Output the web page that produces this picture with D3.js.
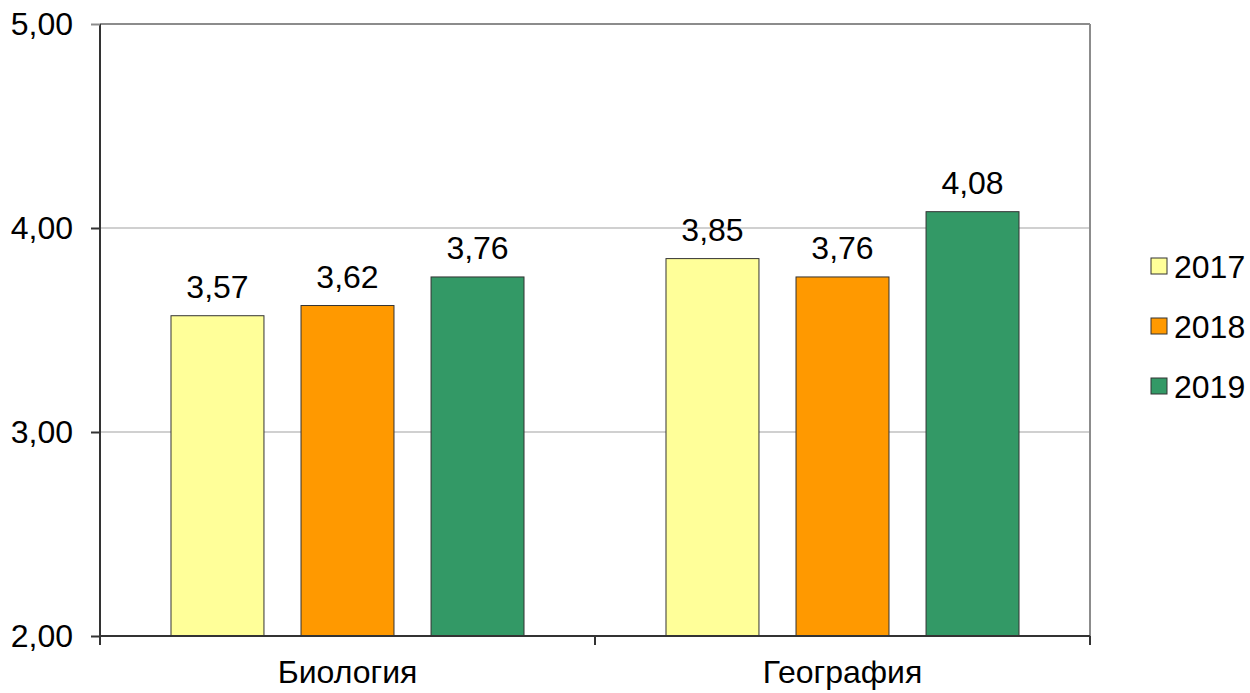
<!DOCTYPE html>
<html>
<head>
<meta charset="utf-8">
<script src="https://cdn.jsdelivr.net/npm/d3@7"></script>
<style>
body { margin: 0; background: #fff; }
text { font-family: "Liberation Sans", Arial, sans-serif; fill: #000; }
</style>
</head>
<body>
<div class="chart"></div>
<script>
// chart data
var categories = ["Биология", "География"];
var years = ["2017", "2018", "2019"];
var values2017 = [3.57, 3.85];
var values2018 = [3.62, 3.76];
var values2019 = [3.76, 4.08];
var yTicks = [2, 3, 4, 5];
var colors = ["#FFFF99", "#FF9900", "#339966"];

var series = [values2017, values2018, values2019];

var w = 1250, h = 693,
	plotLeft = 100, plotRight = 1090, plotTop = 24, plotBottom = 636,
	fontSize = '32px';

var fmt = function(v) { return d3.format(".2f")(v).replace(".", ","); };

var svg = d3.select('.chart').append('svg')
	.attr('width', w)
	.attr('height', h);

var x0 = d3.scaleBand()
	.domain(categories)
	.range([plotLeft, plotRight])
	.padding(0);

var x1 = d3.scaleBand()
	.domain(years)
	.range([0, x0.bandwidth()])
	.paddingInner(0.285)
	.paddingOuter(0.546);

var y = d3.scaleLinear()
	.domain([2, 5])
	.range([plotBottom, plotTop]);

// gridlines
svg.append('g')
	.selectAll('line')
	.data(yTicks.slice(1))
	.enter().append('line')
	.attr('x1', plotLeft)
	.attr('x2', plotRight)
	.attr('y1', function(d) { return y(d); })
	.attr('y2', function(d) { return y(d); })
	.attr('stroke', function(d) { return d == 5 ? '#8c8c8c' : '#c0c0c0'; })
	.attr('stroke-width', function(d) { return d == 5 ? 2 : 1.5; });

// right border
svg.append('line')
	.attr('x1', plotRight).attr('x2', plotRight)
	.attr('y1', plotTop).attr('y2', plotBottom)
	.attr('stroke', '#8c8c8c')
	.attr('stroke-width', 2);

// bars
var groups = svg.selectAll('g.cat')
	.data(categories)
	.enter().append('g')
	.attr('class', 'cat')
	.attr('transform', function(d) { return 'translate(' + x0(d) + ',0)'; });

groups.each(function(cat, ci) {
	var g = d3.select(this);
	years.forEach(function(yr, si) {
		var v = series[si][ci];
		g.append('rect')
			.attr('x', x1(yr))
			.attr('y', y(v))
			.attr('width', x1.bandwidth())
			.attr('height', y(2) - y(v))
			.attr('fill', colors[si])
			.attr('stroke', '#333')
			.attr('stroke-width', 1);
		g.append('text')
			.attr('x', x1(yr) + x1.bandwidth() / 2)
			.attr('y', y(v) - 18)
			.attr('text-anchor', 'middle')
			.style('font-size', fontSize)
			.text(fmt(v));
	});
});

// y axis
var yAxis = d3.axisLeft(y)
	.tickValues(yTicks)
	.tickSize(9)
	.tickPadding(18)
	.tickFormat(fmt);

var ya = svg.append('g')
	.attr('transform', 'translate(' + plotLeft + ',0)')
	.call(yAxis);
ya.select('.domain').attr('stroke', '#333').attr('stroke-width', 2).attr('d', 'M0,' + plotTop + 'V' + (plotBottom + 9));
ya.selectAll('.tick line').attr('stroke', function(d) { return d == 5 ? '#8c8c8c' : '#333'; }).attr('stroke-width', 2);
ya.selectAll('.tick text').style('font-size', fontSize).attr('fill', '#000')
	.style('font-family', '"Liberation Sans", Arial, sans-serif');

// x axis
var xa = svg.append('g')
	.attr('transform', 'translate(0,' + plotBottom + ')')
	.call(d3.axisBottom(x0).tickSize(0).tickPadding(24));
xa.select('.domain').attr('stroke', '#333').attr('stroke-width', 2).attr('d', 'M' + plotLeft + ',0H' + plotRight);
xa.selectAll('.tick text').style('font-size', fontSize).attr('fill', '#000')
	.style('font-family', '"Liberation Sans", Arial, sans-serif');

// category separators
svg.append('g')
	.selectAll('line')
	.data(categories.slice(1).concat(['end']))
	.enter().append('line')
	.attr('x1', function(d) { return d == 'end' ? plotRight : x0(d); })
	.attr('x2', function(d) { return d == 'end' ? plotRight : x0(d); })
	.attr('y1', plotBottom)
	.attr('y2', plotBottom + 9)
	.attr('stroke', '#333')
	.attr('stroke-width', 2);

// legend
var legend = svg.selectAll('g.legend')
	.data(years)
	.enter().append('g')
	.attr('class', 'legend')
	.attr('transform', function(d, i) { return 'translate(1151,' + (258 + i * 60) + ')'; });

legend.append('rect')
	.attr('width', 16)
	.attr('height', 16)
	.attr('fill', function(d, i) { return colors[i]; })
	.attr('stroke', '#333')
	.attr('stroke-width', 1);

legend.append('text')
	.attr('x', 23)
	.attr('y', 20)
	.style('font-size', fontSize)
	.text(function(d) { return d; });
</script>
</body>
</html>
